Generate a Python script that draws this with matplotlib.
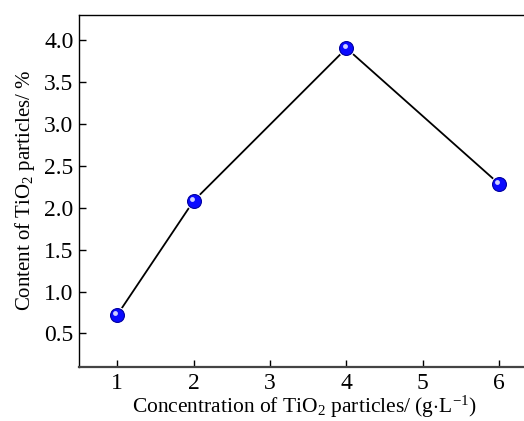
import matplotlib
matplotlib.use("Agg")
import matplotlib.pyplot as plt
import matplotlib.transforms as mtransforms

plt.rcParams['font.family'] = ['Liberation Serif', 'DejaVu Serif']
plt.rcParams['mathtext.fontset'] = 'custom'
plt.rcParams['mathtext.rm'] = 'Liberation Serif'
plt.rcParams['mathtext.it'] = 'Liberation Serif:italic'

concentration = [1, 2, 4, 6]
content = [0.72, 2.08, 3.90, 2.28]
xticks = [1, 2, 3, 4, 5, 6]
yticks = [0.5, 1.0, 1.5, 2.0, 2.5, 3.0, 3.5, 4.0]

fig = plt.figure(figsize=(5.24, 4.21), dpi=100)
W, H = 524, 421
left, right, top, bottom = 79, 537.5, 14.7, 367
ax = fig.add_axes([left / W, 1 - bottom / H, (right - left) / W, (bottom - top) / H])

ax.plot(concentration, content, color='black', lw=1.3, zorder=2)
ax.plot(concentration, content, ls='none', marker='o', ms=11.5,
        mfc='white', mec='white', zorder=3)
ax.plot(concentration, content, ls='none', marker='o', ms=10,
        mfc='#0a0aff', mec='#0000a0', mew=0.8, zorder=4)
off = mtransforms.ScaledTranslation(-1.3 / 72, 1.3 / 72, fig.dpi_scale_trans)
ax.plot(concentration, content, ls='none', marker='o', ms=3.5,
        mfc='#d0d0ff', mec='none', zorder=5, transform=ax.transData + off)

ax.set_xlim(0.5, 6.5)
ax.set_ylim(0.1, 4.3)
ax.set_xticks(xticks)
ax.set_xticklabels([str(t) for t in xticks])
ax.set_yticks(yticks)
ax.set_yticklabels([f"{t:.1f}" for t in yticks])
ax.tick_params(direction='in', length=5, width=1, labelsize=17)
ax.tick_params(axis='y', pad=4)
ax.tick_params(axis='x', pad=4)
for s in ax.spines.values():
    s.set_linewidth(1.0)
ax.spines['right'].set_visible(False)
ax.spines['bottom'].set_linewidth(1.6)
ax.spines['bottom'].set_color('#444444')

fig.text(304 / W, 1.5 / H, 'Concentration of TiO$_2$ particles/ (g$\\cdot$L$^{-1}$)',
         fontsize=15.5, ha='center', va='bottom')
ax.set_ylabel('Content of TiO$_2$ particles/ %', fontsize=15, labelpad=5)

fig.savefig('out.png', dpi=100)
